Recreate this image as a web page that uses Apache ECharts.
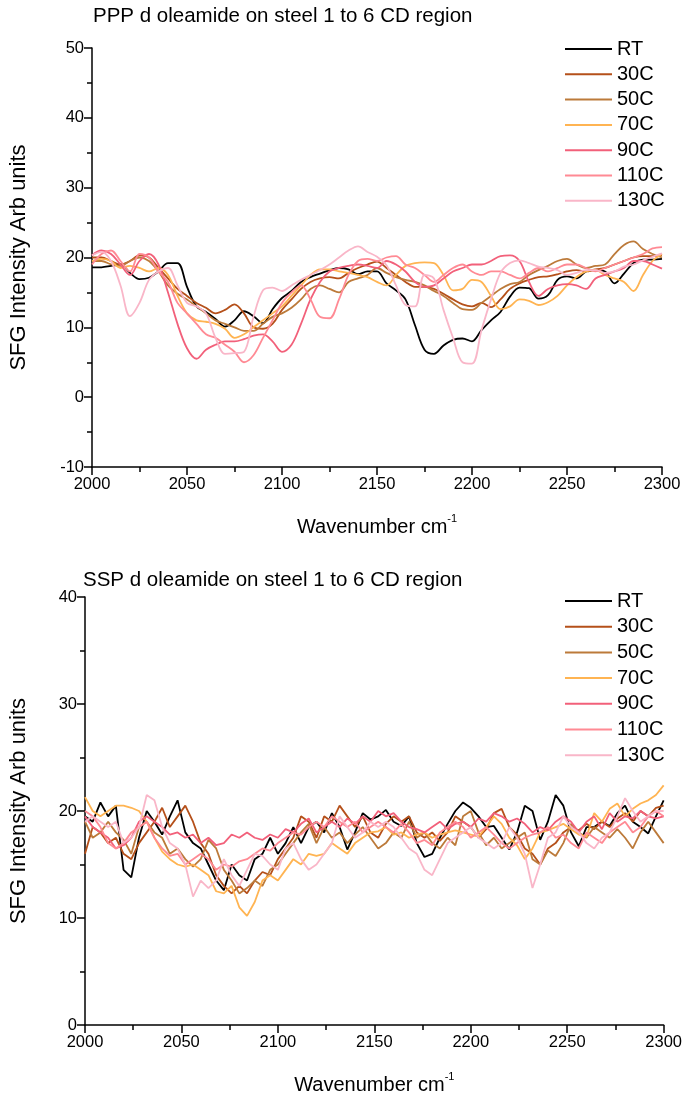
<!DOCTYPE html>
<html><head><meta charset="utf-8">
<script src="https://cdn.jsdelivr.net/npm/echarts@6/dist/echarts.min.js"></script>
<style>html,body{margin:0;padding:0;background:#fff}#c{width:685px;height:1100px}</style>
</head><body><div id="c"></div>
<script>
const seriesNames = ['RT','30C','50C','70C','90C','110C','130C'];
const seriesColors = ['#000000','#B5501A','#BC7A3A','#FFB452','#F2607A','#FF8A94','#F9B6C8'];

const topTitle = 'PPP d oleamide on steel 1 to 6 CD region';
const bottomTitle = 'SSP d oleamide on steel 1 to 6 CD region';
const yAxisTitle = 'SFG Intensity Arb units';

const topWavenumber = [2000,2005,2010,2015,2020,2025,2030,2035,2040,2045,2050,2055,2060,2065,2070,2075,2080,2085,2090,2095,2100,2105,2110,2115,2120,2125,2130,2135,2140,2145,2150,2155,2160,2165,2170,2175,2180,2185,2190,2195,2200,2205,2210,2215,2220,2225,2230,2235,2240,2245,2250,2255,2260,2265,2270,2275,2280,2285,2290,2295,2300];

const topRT = [18.6,18.6,18.8,19.0,17.8,16.9,17.1,18.0,19.2,19.2,15.8,13.0,12.2,11.2,10.1,11.0,12.3,11.6,10.6,12.6,14.2,15.2,16.5,17.2,17.7,18.2,18.5,18.3,17.6,18.0,
  18.0,16.3,15.3,14.0,10.3,6.8,6.2,7.4,8.2,8.4,8.0,9.6,11.0,12.2,14.4,15.7,15.6,14.1,14.6,16.8,17.3,17.0,18.0,18.2,18.0,16.3,17.7,19.2,19.7,19.7,19.8];
const top30C = [20.0,20.0,19.5,19.0,19.5,20.3,20.0,18.5,17.0,15.5,14.5,13.5,12.8,12.0,12.5,13.3,12.0,10.0,9.8,10.5,12.5,14.0,15.5,16.5,17.0,17.2,17.0,17.8,18.5,19.0,
  19.4,18.5,17.5,16.5,15.8,15.8,15.5,14.8,14.0,13.3,13.0,13.5,12.9,14.0,15.5,16.3,16.8,17.2,17.3,17.6,18.0,18.2,18.0,18.3,18.5,19.0,19.5,20.0,20.2,20.2,20.3];
const top50C = [19.5,19.5,19.0,18.8,19.5,20.0,19.5,18.0,16.0,14.8,14.0,13.0,12.0,11.0,10.5,10.0,9.5,9.5,10.5,11.5,12.0,12.8,14.0,15.5,16.0,15.5,15.0,16.5,17.0,17.5,
  18.5,17.8,17.2,16.8,16.5,16.0,15.2,14.5,13.5,12.6,12.5,13.5,14.5,15.5,16.2,16.5,17.5,18.2,18.8,19.5,19.8,19.0,18.5,18.8,19.0,20.5,21.8,22.3,21.2,20.5,20.0];
const top70C = [19.5,19.8,19.5,18.5,18.8,18.5,18.0,18.5,17.5,14.5,12.0,11.0,10.8,10.5,9.8,8.5,9.0,10.0,11.0,12.0,13.0,14.5,16.0,17.5,18.3,18.3,18.0,17.8,17.5,17.2,
  16.5,16.0,17.5,18.8,19.2,19.3,19.2,17.5,15.3,15.5,16.8,16.5,14.5,12.6,13.0,14.0,13.8,13.2,13.6,14.5,16.0,17.2,18.0,18.2,17.5,17.0,16.5,15.2,17.5,19.5,20.5];
const top90C = [20.3,21.0,20.5,19.0,17.5,19.5,20.5,19.0,15.0,10.5,7.0,5.5,6.8,7.5,8.0,8.0,8.3,8.8,9.0,8.0,6.5,7.5,10.5,14.0,16.5,18.0,18.5,18.8,19.0,18.8,
  18.5,19.5,19.0,18.0,16.5,15.8,16.0,17.0,18.0,18.5,19.0,19.0,19.5,20.2,20.3,19.5,16.5,14.5,15.5,16.0,16.2,16.0,15.5,17.0,17.5,18.0,18.5,19.5,19.5,19.0,18.4];
const top110C = [19.0,20.5,21.0,19.5,18.0,20.5,20.0,18.0,16.5,13.5,12.0,10.5,9.0,8.5,7.5,6.5,5.0,6.0,8.5,11.0,13.5,15.0,16.0,14.0,11.5,11.3,14.0,17.5,19.5,19.8,
  19.5,20.0,20.2,19.0,18.5,17.5,16.5,17.5,18.5,19.0,18.0,17.5,18.0,18.0,17.5,17.0,17.8,18.5,18.0,18.5,19.0,19.0,18.5,18.0,18.5,19.0,19.5,20.0,20.5,21.3,21.5];
const top130C = [20.3,20.8,19.5,16.0,11.6,13.5,16.8,18.0,18.5,16.0,13.5,13.0,12.0,8.5,6.2,6.3,6.5,11.5,15.3,15.7,15.2,16.0,16.8,17.5,18.2,19.0,20.0,21.0,21.6,20.8,
  20.1,18.9,16.0,13.2,13.0,17.5,17.0,12.5,8.5,5.0,4.8,9.6,14.0,17.8,19.2,19.6,19.2,18.7,18.5,18.2,17.5,17.8,18.2,18.2,17.8,18.0,18.7,19.0,19.6,20.1,20.6];

const bottomWavenumber = [2000,2004,2008,2012,2016,2020,2024,2028,2032,2036,2040,2044,2048,2052,2056,2060,2064,2068,2072,2076,2080,2084,2088,2092,2096,2100,2104,2108,2112,2116,2120,2124,2128,2132,2136,2140,2144,2148,2152,2156,2160,2164,2168,2172,2176,2180,2184,2188,2192,2196,2200,2204,2208,2212,2216,2220,2224,2228,2232,2236,2240,2244,2248,2252,2256,2260,2264,2268,2272,2276,2280,2284,2288,2292,2296,2300];

const botRT = [19.5,19.0,20.8,19.5,20.5, 14.5,13.8,17.5,20.0,19.0, 17.8,19.5,21.0,18.0,17.0, 16.5,15.0,13.5,12.6,15.0, 14.0,13.5,15.5,16.0,17.5, 16.0,17.0,18.5,17.0,18.5, 19.0,18.0,19.8,18.5,16.4, 18.0,19.8,19.2,19.5,20.1, 19.0,18.6,19.5,17.0,15.7, 16.0,17.5,18.8,20.0,20.8, 20.3,19.5,18.5,18.6,17.5, 16.4,18.0,20.5,20.0,17.3, 19.0,21.5,20.5,18.0,16.7, 18.5,18.5,19.0,18.6,19.8, 20.5,19.0,18.5,17.9,19.5, 21.0];
const bot30C = [16.0,18.5,18.0,17.0,17.5, 16.0,15.5,17.0,18.0,19.0, 20.3,18.5,19.5,20.5,19.0, 17.0,16.0,14.0,13.0,12.3, 13.0,12.3,13.5,14.3,14.0, 15.5,16.5,17.5,19.5,19.0, 17.5,19.5,19.0,20.5,19.5, 18.5,19.5,18.0,17.5,18.8, 19.5,19.0,19.5,18.0,17.5, 18.0,17.2,18.0,19.5,19.0, 18.5,17.5,18.3,19.8,20.2, 18.5,17.8,16.5,16.0,15.0, 16.5,17.0,18.0,18.5,18.2, 18.8,18.3,19.0,18.5,19.3, 19.8,19.0,20.0,19.5,20.3, 20.5];
const bot50C = [19.0,17.5,18.0,19.0,18.0, 17.3,16.0,18.5,19.0,18.0, 17.5,16.0,16.5,15.5,14.8, 15.5,17.3,16.5,14.5,13.5, 12.3,12.8,13.5,13.0,14.5, 15.0,16.0,17.0,18.0,18.8, 17.0,18.5,17.5,18.0,17.0, 17.8,18.5,17.5,16.5,17.0, 18.0,17.5,19.0,17.5,18.0, 17.0,16.5,17.5,16.8,19.5, 20.0,18.0,16.8,17.5,16.5, 17.0,17.5,18.0,15.5,15.0, 16.3,15.8,17.0,18.8,18.0, 17.5,18.5,18.0,17.5,18.3, 17.5,16.5,18.0,19.0,18.0, 17.0];
const bot70C = [21.3,20.0,19.5,20.0,20.5, 20.5,20.3,20.0,19.0,17.5, 16.2,15.5,15.0,14.8,15.0, 14.5,14.0,12.5,12.3,13.0, 11.0,10.2,11.5,13.5,14.0, 13.5,14.5,15.5,15.0,16.0, 15.8,16.0,17.0,16.5,16.0, 17.0,17.5,18.0,18.1,18.5, 17.8,18.0,17.5,17.8,18.0, 17.5,17.8,18.0,18.2,18.0, 17.8,17.6,18.5,19.5,18.8, 17.5,16.8,15.5,16.5,18.0, 18.2,18.5,18.8,18.3,17.8, 17.6,19.8,19.0,20.2,20.7, 19.5,20.2,20.7,21.0,21.5, 22.4];
const bot90C = [19.5,18.5,18.0,17.5,16.5, 16.8,17.5,19.0,19.5,19.0, 18.5,17.8,18.0,17.5,17.8, 17.0,17.5,16.8,17.0,17.8, 17.5,18.0,17.5,17.3,17.8, 17.5,18.3,18.0,18.8,19.3, 18.0,18.5,19.0,18.5,19.3, 18.8,19.5,19.0,20.0,19.5, 19.8,19.0,18.5,18.3,18.0, 18.5,19.0,18.3,18.8,19.0, 18.5,19.3,19.0,19.8,19.5, 19.0,19.3,18.8,18.0,18.5, 18.2,19.0,19.5,19.0,18.0, 19.0,19.5,18.3,19.8,19.0, 19.5,19.3,20.0,19.5,19.3, 19.5];
const bot110C = [20.0,19.5,18.5,17.0,16.5, 17.0,18.0,18.5,19.0,17.5, 16.5,15.8,16.0,15.0,15.5, 16.0,15.5,14.5,15.0,14.8, 15.3,15.5,16.0,16.5,16.3, 17.0,17.5,18.0,17.8,18.5, 19.0,18.5,19.5,19.0,18.5, 19.0,18.0,18.5,19.0,18.5, 18.0,18.8,18.0,17.0,17.3, 16.8,18.0,18.5,19.0,18.5, 17.5,18.0,18.5,17.8,17.0, 16.5,17.0,17.5,17.8,18.0, 18.5,17.5,17.8,17.0,16.5, 18.0,17.5,17.0,18.0,18.5, 19.0,18.0,18.5,19.5,20.0, 19.5];
const bot130C = [19.0,19.5,19.0,18.5,19.0, 17.0,17.5,18.5,21.5,21.0, 18.5,17.0,16.5,15.0,12.0, 13.5,12.8,13.5,15.5,14.0, 13.0,14.5,16.0,15.8,15.0, 14.5,16.5,17.0,15.5,14.5, 15.0,16.0,17.0,19.5,18.5, 17.5,18.0,19.0,18.5,19.0, 18.5,17.5,16.5,16.0,14.5, 14.0,15.5,17.0,17.5,18.0, 18.5,17.5,17.0,16.5,17.0, 18.5,17.5,16.0,12.8,15.0, 17.5,18.0,19.5,18.5,18.0, 17.0,16.5,17.5,18.0,19.5, 21.2,20.0,19.0,19.5,20.0, 20.0];

const topSets = [topRT, top30C, top50C, top70C, top90C, top110C, top130C];
const botSets = [botRT, bot30C, bot50C, bot70C, bot90C, bot110C, bot130C];

const FONT = '"Liberation Sans", Arial, sans-serif';
const plain = v => String(v);
const axisCommon = {
  axisLine: {show: true, onZero: false, lineStyle: {color: '#000', width: 1.5}},
  axisTick: {show: true, inside: false, length: 8, lineStyle: {color: '#000', width: 1.5}},
  minorTick: {show: true, splitNumber: 2, length: 5, lineStyle: {color: '#000', width: 1.5}},
  splitLine: {show: false},
  minorSplitLine: {show: false},
  axisLabel: {color: '#000', fontSize: 16.5, fontFamily: FONT, formatter: plain}
};
const xName = '{n|Wavenumber cm}{s|-1}';
const xNameStyle = {rich: {
  n: {fontSize: 20, fontFamily: FONT, color: '#000', verticalAlign: 'bottom', lineHeight: 24},
  s: {fontSize: 11, fontFamily: FONT, color: '#000', verticalAlign: 'top', lineHeight: 24}
}};

const series = [];
seriesNames.forEach((name, k) => {
  series.push({
    name, type: 'line', xAxisIndex: 0, yAxisIndex: 0, showSymbol: false, symbol: 'none',
    smooth: 0.35, color: seriesColors[k], lineStyle: {width: 1.8, color: seriesColors[k]},
    data: topWavenumber.map((w, i) => [w, topSets[k][i]])
  });
});
seriesNames.forEach((name, k) => {
  series.push({
    name, type: 'line', xAxisIndex: 1, yAxisIndex: 1, showSymbol: false, symbol: 'none',
    color: seriesColors[k], lineStyle: {width: 1.8, color: seriesColors[k]},
    data: bottomWavenumber.map((w, i) => [w, botSets[k][i]])
  });
});

const legendCommon = {
  orient: 'vertical', left: 565, padding: 0, itemWidth: 47, itemHeight: 2, icon: 'rect',
  textStyle: {fontSize: 20, fontFamily: FONT, color: '#000', lineHeight: 20},
  data: seriesNames
};

const option = {
  animation: false,
  backgroundColor: '#fff',
  title: [
    {text: topTitle, left: 88, top: 1, textStyle: {fontSize: 20.5, fontWeight: 'normal', fontFamily: FONT, color: '#000'}},
    {text: bottomTitle, left: 78, top: 565, textStyle: {fontSize: 20.5, fontWeight: 'normal', fontFamily: FONT, color: '#000'}}
  ],
  legend: [
    Object.assign({}, legendCommon, {top: 39, itemGap: 5.3}),
    Object.assign({}, legendCommon, {top: 591, itemGap: 5.7})
  ],
  grid: [
    {left: 92, right: 23, top: 48, height: 419},
    {left: 81, right: 20, top: 597, height: 428}
  ],
  xAxis: [
    Object.assign({}, axisCommon, {gridIndex: 0, type: 'value', min: 2000, max: 2300, interval: 50,
      name: xName, nameLocation: 'middle', nameGap: 46, nameTextStyle: xNameStyle,
      axisLabel: Object.assign({}, axisCommon.axisLabel, {margin: 9})}),
    Object.assign({}, axisCommon, {gridIndex: 1, type: 'value', min: 2000, max: 2300, interval: 50,
      name: xName, nameLocation: 'middle', nameGap: 46, nameTextStyle: xNameStyle,
      axisLabel: Object.assign({}, axisCommon.axisLabel, {margin: 9})})
  ],
  yAxis: [
    Object.assign({}, axisCommon, {gridIndex: 0, type: 'value', min: -10, max: 50, interval: 10,
      name: yAxisTitle, nameLocation: 'middle', nameGap: 62,
      nameTextStyle: {fontSize: 22, fontFamily: FONT, color: '#000'},
      axisLabel: Object.assign({}, axisCommon.axisLabel, {margin: 8})}),
    Object.assign({}, axisCommon, {gridIndex: 1, type: 'value', min: 0, max: 40, interval: 10,
      name: yAxisTitle, nameLocation: 'middle', nameGap: 55,
      nameTextStyle: {fontSize: 22, fontFamily: FONT, color: '#000'},
      axisLabel: Object.assign({}, axisCommon.axisLabel, {margin: 8})})
  ],
  series
};
const chart = echarts.init(document.getElementById('c'), null, {renderer: 'canvas'});
chart.setOption(option);
</script>
</body></html>
